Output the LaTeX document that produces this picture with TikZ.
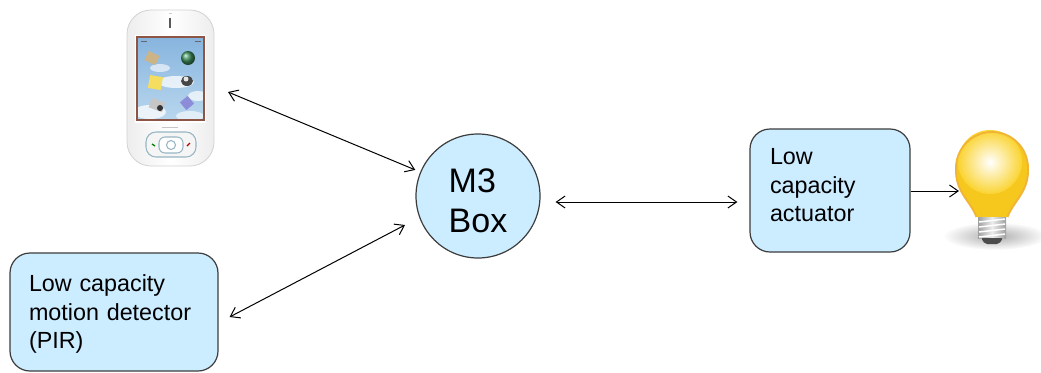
\documentclass[tikz,border=0pt]{standalone}
\usepackage{fontspec}
\setmainfont{Liberation Sans}
\usetikzlibrary{arrows.meta,calc}
\newdimen\pxu \pxu=0.75pt
\definecolor{boxfill}{RGB}{204,236,255}
\definecolor{boxline}{RGB}{60,60,60}
\definecolor{skytop}{RGB}{135,180,222}
\definecolor{skybot}{RGB}{185,215,238}
\definecolor{screenrim}{RGB}{140,85,70}
\definecolor{padline}{RGB}{150,182,195}
\definecolor{bulbyellow}{RGB}{250,212,50}
\definecolor{bulbneck}{RGB}{246,200,30}
\definecolor{bulbrim}{RGB}{240,180,55}
\begin{document}
\begin{tikzpicture}[x=0.75pt,y=-0.75pt,
  >={Straight Barb[length=6.5pt,width=9pt]},
  link/.style={draw=black, line width=0.75pt},
  textbox/.style={draw=boxline, fill=boxfill, line width=0.9pt,
    rounded corners=20\pxu, align=left,
    font=\fontsize{17.5}{21.2}\selectfont},
  hub/.style={circle, draw=boxline, fill=boxfill, line width=0.9pt,
    minimum size=124\pxu, inner sep=0pt, align=left,
    font=\fontsize{25.5}{30}\selectfont}]
\useasboundingbox (0,0) rectangle (1041,372);

% ---------- handset ----------
\shade[left color=gray!14, right color=gray!14, middle color=white,
  draw=gray!35, line width=0.6pt, rounded corners=24\pxu]
  (127,10) rectangle (214,166);
\draw[gray!70!black, line width=1.1pt] (170,18) -- (170,28);
\fill[gray!40] (168.5,12.5) rectangle (171.5,14);
% screen
\fill[white] (135,35) rectangle (206,123);
\shade[top color=skytop, bottom color=skybot] (137,37) rectangle (204,120);
\begin{scope}
  \clip (137,37) rectangle (204,120);
  \fill[white, opacity=0.75] (176,82) ellipse[x radius=18, y radius=6];
  \fill[white, opacity=0.75] (150,112) ellipse[x radius=16, y radius=7];
  \fill[white, opacity=0.7] (198,96) ellipse[x radius=10, y radius=5];
  \fill[white, opacity=0.6] (160,68) ellipse[x radius=10, y radius=4];
  \fill[white, opacity=0.6] (190,116) ellipse[x radius=14, y radius=5];
\end{scope}
\draw[screenrim, line width=0.8pt] (137,37) rectangle (204,120);
\draw[gray!80!black, line width=0.5pt] (141,41) -- (147,41) (195,41) -- (201,41);
% screen icons
\fill[rotate around={-25:(152,58)}, fill={rgb,255:red,205;green,180;blue,135}]
  (146,53) rectangle (158,63);
\shade[ball color={rgb,255:red,60;green,140;blue,90}] (188,58) circle[radius=7];
\fill[rotate around={-10:(155,82)}, fill={rgb,255:red,245;green,222;blue,95}]
  (149,76) rectangle (162,89);
\fill[gray!55!black] (187,81) ellipse[x radius=6, y radius=5];
\fill[gray!20] (186,79) circle[radius=2.5];
\fill[rotate around={-20:(157,105)}, gray!45] (150,100) rectangle (164,110);
\fill[black!80] (160,108) circle[radius=3];
\fill[rotate around={40:(187,103)}, gray!50!blue!60] (182,98) rectangle (192,108);
\draw[gray!45, line width=0.5pt] (162,127) -- (178,127);
% navigation pad
\draw[padline, fill=gray!8, line width=0.8pt, rounded corners=10\pxu]
  (146,132) rectangle (196,157);
\draw[padline, fill=white, line width=0.8pt, rounded corners=6\pxu]
  (159,137) rectangle (183,153);
\draw[padline, line width=0.8pt] (171,145) circle[radius=4.5];
\draw[green!50!black, line width=1pt] (152,144) -- (155,146);
\draw[red!70!black, line width=1pt] (187,146) -- (190,143);

% ---------- lamp ----------
\begin{scope}[shift={(992,168)}, y=0.75pt]
  \shade[inner color=gray!65, outer color=white]
    (3,-68) ellipse[x radius=52, y radius=14];
  \fill[bulbneck]
    (-15.5,-49) .. controls (-22,-32) and (-37,-24) .. (-36,0)
    arc[start angle=180, end angle=0, radius=36]
    .. controls (37,-24) and (22,-32) .. (15.5,-49) -- cycle;
  \shade[inner color=white, outer color=bulbyellow] (-2,6) circle[radius=32];
  \draw[bulbrim, line width=1.4pt]
    (-15.5,-49) .. controls (-22,-32) and (-37,-24) .. (-36,0)
    arc[start angle=180, end angle=0, radius=36]
    .. controls (37,-24) and (22,-32) .. (15.5,-49);
  \shade[left color=gray!75, right color=gray!75, middle color=gray!15]
    (-14,-49) rectangle (14,-70);
  \foreach \yy in {-53,-58,-63,-68}
    \draw[white, line width=1.1pt] (-13,\yy-1) -- (13,\yy+2);
  \fill[gray!60!black, rounded corners=2\pxu]
    (-11,-70) -- (11,-70) -- (7,-76) -- (-7,-76) -- cycle;
\end{scope}

% ---------- blocks ----------
\node[hub, text height=74\pxu] (m3) at (478,196) {M3\\Box};
\node[textbox, text width=120\pxu, inner xsep=20\pxu, minimum height=123\pxu,
  text depth=67.5\pxu] (act) at (830,190.5) {Low\\capacity\\actuator};
\node[textbox, text width=170\pxu, inner xsep=19\pxu, minimum height=118\pxu,
  text depth=57\pxu] (pir) at (114,312) {Low capacity\\motion detector\\(PIR)};

\coordinate (phoneport) at (228,92);
\coordinate (bulbport) at (959,191);

% ---------- links ----------
\draw[link, <->, shorten >=4pt] (phoneport) -- (m3);
\draw[link, <->] ($(pir.east)+(11,5)$) -- ($(m3.center)+(-73,29)$);
\draw[link, <->] ($(m3.east)+(15,6)$) -- ($(act.west)+(-12,11.5)$);
\draw[link, ->] ($(act.east)+(0,0.5)$) -- (bulbport);
\end{tikzpicture}
\end{document}
